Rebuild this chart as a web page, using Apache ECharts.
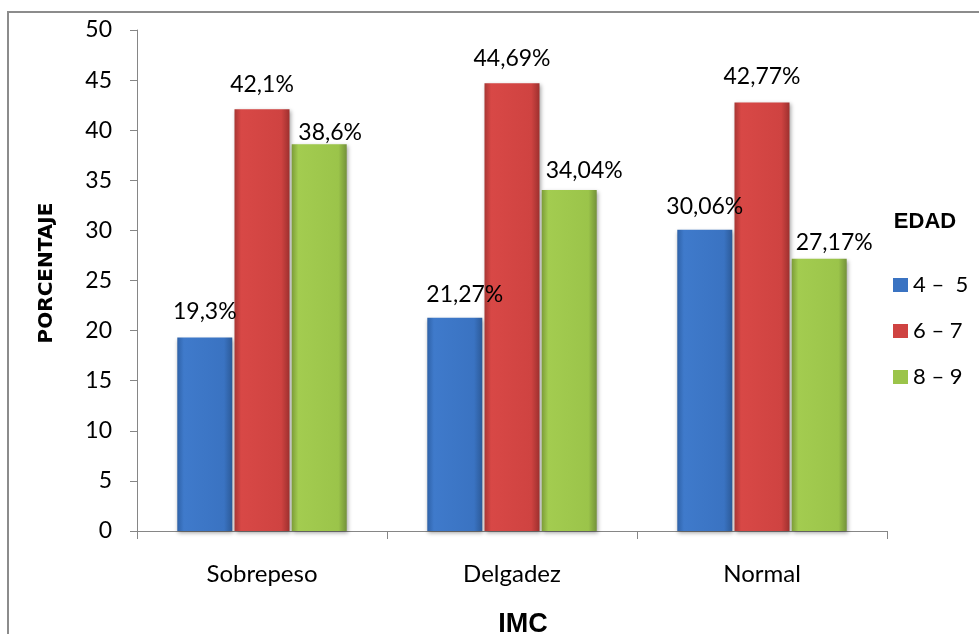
<!DOCTYPE html>
<html>
<head>
<meta charset="utf-8">
<script src="https://cdn.jsdelivr.net/npm/echarts@6/dist/echarts.min.js"></script>
<style>
html,body{margin:0;padding:0;background:#fff;}
#chart{width:979px;height:634px;}
</style>
</head>
<body>
<div id="chart"></div>
<script>
// ---- data ----
var categories = ['Sobrepeso', 'Delgadez', 'Normal'];
var seriesNames = ['4 \u2013  5', '6 \u2013 7', '8 \u2013 9'];
var edad45 = [19.3, 21.27, 30.06];
var edad67 = [42.1, 44.69, 42.77];
var edad89 = [38.6, 34.04, 27.17];
var yTicks = { min: 0, max: 50, interval: 5 };

// ---- style (label placement tweaks per bar) ----
var labelDist = [[15, 12, 12], [13, 13, 14], [0, 8, 5]];
var labelDx = [[0, 10, 0], [0, 0, 0], [11, 15, 15]];

function grad(c0, c1, c2, c3) {
  return new echarts.graphic.LinearGradient(0, 0, 1, 0, [
    { offset: 0, color: c0 },
    { offset: 0.12, color: c1 },
    { offset: 0.85, color: c2 },
    { offset: 1, color: c3 }
  ]);
}
var fills = [
  grad('#2f62a8', '#3f7acb', '#3a73c2', '#2c5a98'),
  grad('#a83633', '#d84846', '#cf4341', '#9e302e'),
  grad('#7c9c38', '#a3cc50', '#9bc44a', '#74923a')
];
var legendFills = ['#3a73c2', '#cf4341', '#9bc44a'];
var FONT = 'Lato, "Open Sans", sans-serif';

function fmt(v) { return String(v).replace('.', ',') + '%'; }

var allData = [edad45, edad67, edad89];
var series = allData.map(function (arr, si) {
  return {
    name: seriesNames[si],
    type: 'bar',
    barWidth: 55,
    barGap: '4%',
    itemStyle: {
      color: fills[si],
      shadowColor: 'rgba(0,0,0,0.35)',
      shadowBlur: 4,
      shadowOffsetX: 1,
      shadowOffsetY: 2
    },
    data: arr.map(function (v, i) {
      return {
        value: v,
        label: { distance: labelDist[si][i], offset: [labelDx[si][i], 0] }
      };
    }),
    label: {
      show: true,
      position: 'top',
      fontFamily: FONT,
      fontSize: 23,
      lineHeight: 23,
      color: '#000',
      formatter: function (p) { return fmt(p.value); }
    }
  };
});

var chart = echarts.init(document.getElementById('chart'), null, { renderer: 'canvas' });
chart.setOption({
  animation: false,
  backgroundColor: '#fff',
  grid: { left: 137, right: 92, top: 30, bottom: 103, containLabel: false },
  legend: {
    orient: 'vertical',
    left: 888,
    top: 269,
    itemWidth: 15,
    itemHeight: 14,
    itemGap: 24,
    icon: 'rect',
    data: seriesNames.map(function (n, i) {
      return { name: n, itemStyle: { color: legendFills[i] } };
    }),
    textStyle: { fontFamily: FONT, fontSize: 22, lineHeight: 21, color: '#000' }
  },
  xAxis: {
    type: 'category',
    data: categories,
    axisLine: { lineStyle: { color: '#868686', width: 1 } },
    axisTick: { show: true, length: 8, alignWithLabel: false, lineStyle: { color: '#868686' } },
    axisLabel: { margin: 31, fontFamily: FONT, fontSize: 24, color: '#000' },
    splitLine: { show: false }
  },
  yAxis: {
    type: 'value',
    min: yTicks.min,
    max: yTicks.max,
    interval: yTicks.interval,
    axisLine: { show: true, lineStyle: { color: '#868686', width: 1 } },
    axisTick: { show: true, length: 7, lineStyle: { color: '#868686' } },
    axisLabel: { margin: 25, fontFamily: FONT, fontSize: 23, color: '#000' },
    splitLine: { show: false }
  },
  graphic: [
    {
      type: 'rect', z: -10, silent: true,
      shape: { x: 8, y: 12, width: 1200, height: 900 },
      style: { fill: 'none', stroke: '#8c8c8c', lineWidth: 2 }
    },
    {
      type: 'text', x: 47, y: 273, rotation: Math.PI / 2,
      style: { text: 'PORCENTAJE', font: 'bold 20px "DejaVu Sans", sans-serif', fill: '#000', align: 'center', verticalAlign: 'middle' }
    },
    {
      type: 'text', x: 925, y: 222,
      style: { text: 'EDAD', font: 'bold 22px "Liberation Sans", sans-serif', fill: '#000', align: 'center', verticalAlign: 'middle' }
    },
    {
      type: 'text', x: 523, y: 625,
      style: { text: 'IMC', font: 'bold 27px "Liberation Sans Narrow", "Liberation Sans", sans-serif', fill: '#000', align: 'center', verticalAlign: 'middle' }
    }
  ],
  series: series
});
</script>
</body>
</html>
